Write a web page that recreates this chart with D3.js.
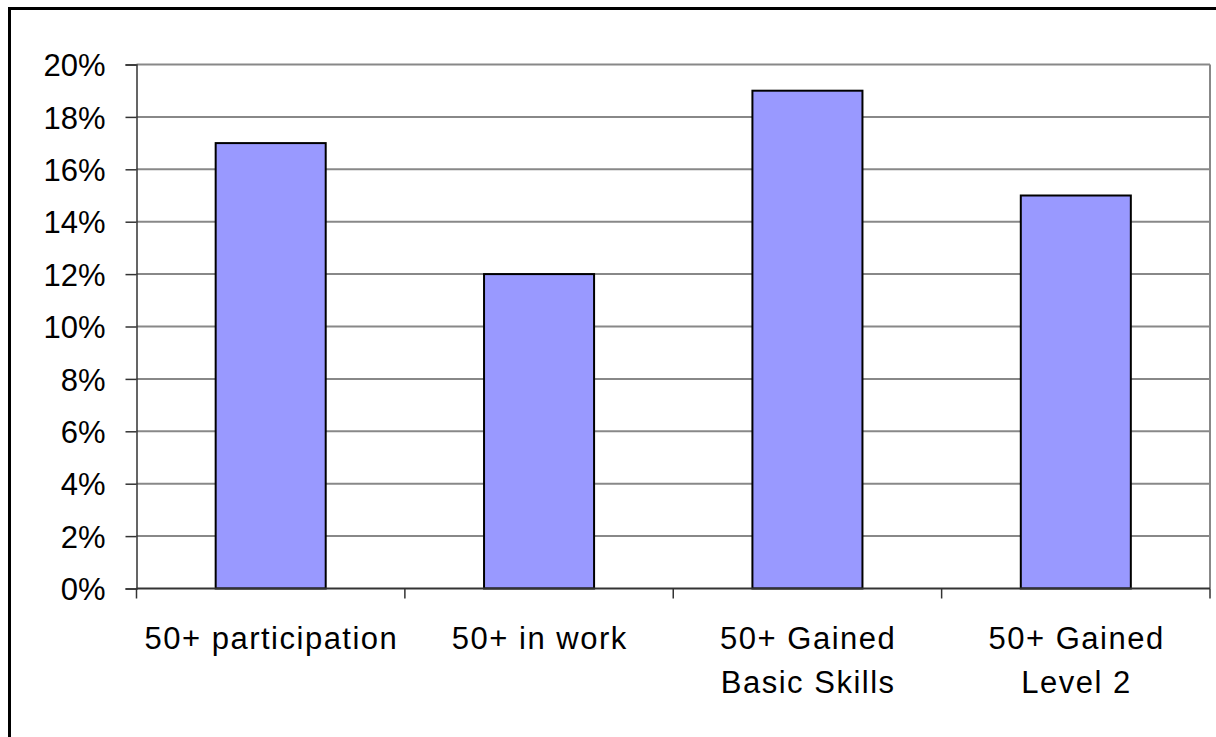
<!DOCTYPE html>
<html>
<head>
<meta charset="utf-8">
<script src="https://cdn.jsdelivr.net/npm/d3@7"></script>
<style>
html,body{margin:0;padding:0;background:#fff;}
svg{display:block;}
text{font-family:"Liberation Sans", Arial, sans-serif;fill:#000;}
</style>
</head>
<body>
<svg id="chart" width="1216" height="737"></svg>
<script>
const categories = [["50+ participation"], ["50+ in work"], ["50+ Gained", "Basic Skills"], ["50+ Gained", "Level 2"]];
const values = [0.17, 0.12, 0.19, 0.15];
const yTicks = [0, 0.02, 0.04, 0.06, 0.08, 0.10, 0.12, 0.14, 0.16, 0.18, 0.20];

const svg = d3.select("#chart");
const W = 1216, H = 737;
const m = {left: 136.5, right: 1210, top: 64.5, bottom: 588.5};

// outer border
svg.append("rect").attr("x", 9.5).attr("y", 8.5).attr("width", W + 20).attr("height", H + 20)
  .attr("fill", "none").attr("stroke", "#000").attr("stroke-width", 3);

const x = d3.scaleBand().domain(d3.range(categories.length)).range([m.left, m.right]).paddingInner(0.59).paddingOuter(0.295);
const xOuter = d3.scaleBand().domain(d3.range(categories.length)).range([m.left, m.right]);
const y = d3.scaleLinear().domain([0, 0.20]).range([m.bottom, m.top]);

// gridlines
svg.append("g").selectAll("line").data(yTicks.filter(d => d > 0)).join("line")
  .attr("x1", m.left).attr("x2", m.right)
  .attr("y1", d => y(d)).attr("y2", d => y(d))
  .attr("stroke", "#888").attr("stroke-width", 2);
// right plot border
svg.append("line").attr("x1", m.right).attr("x2", m.right).attr("y1", m.top).attr("y2", m.bottom)
  .attr("stroke", "#888").attr("stroke-width", 2);

// bars
svg.append("g").selectAll("rect").data(values).join("rect")
  .attr("x", (d, i) => x(i)).attr("width", x.bandwidth())
  .attr("y", d => y(d)).attr("height", d => y(0) - y(d))
  .attr("fill", "#9999FF").attr("stroke", "#000").attr("stroke-width", 2);

// y axis
const yAxis = d3.axisLeft(y).tickValues(yTicks).tickFormat(d3.format(".0%")).tickSize(11).tickPadding(20);
const gy = svg.append("g").attr("transform", `translate(${m.left},0)`).call(yAxis);
gy.select(".domain").attr("stroke", "#333").attr("stroke-width", 1.5);
gy.selectAll(".tick line").attr("stroke", "#333").attr("stroke-width", 1.5);
gy.selectAll(".tick text").style("font-size", "31px").attr("dy", "0.36em").attr("fill", "#000");

// x axis
const gx = svg.append("g").attr("transform", `translate(0,${m.bottom})`);
gx.append("line").attr("x1", m.left).attr("x2", m.right).attr("y1", 0).attr("y2", 0)
  .attr("stroke", "#333").attr("stroke-width", 2);
const bounds = d3.range(categories.length + 1).map(i => i < categories.length ? xOuter(i) : m.right);
gx.selectAll("line.tk").data(bounds).join("line").attr("class", "tk")
  .attr("x1", d => d).attr("x2", d => d).attr("y1", 0).attr("y2", 10)
  .attr("stroke", "#333").attr("stroke-width", 1.5);
gx.selectAll("text.lbl").data(categories).join("text").attr("class", "lbl")
  .attr("text-anchor", "middle")
  .style("font-size", "31px").style("letter-spacing", "1.5px")
  .each(function(lines, i) {
    const t = d3.select(this);
    lines.forEach((ln, j) => {
      t.append("tspan").attr("x", xOuter(i) + xOuter.bandwidth() / 2 + 0.75).attr("y", 60 + j * 44).text(ln);
    });
  });
</script>
</body>
</html>
